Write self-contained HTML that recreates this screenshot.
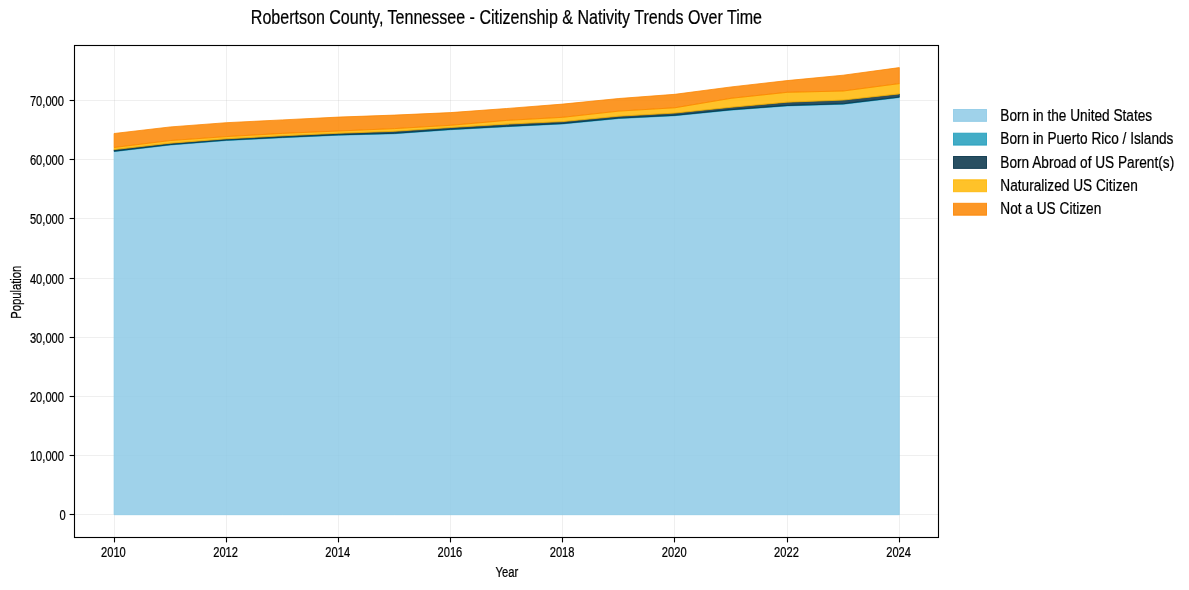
<!DOCTYPE html>
<html lang="en"><head><meta charset="utf-8">
<title>Robertson County, Tennessee - Citizenship &amp; Nativity Trends Over Time</title>
<style>html,body{margin:0;padding:0;background:#fff}svg{display:block}text{font-family:"Liberation Sans",sans-serif;fill:#000;stroke:#000;stroke-width:0.22px}</style>
</head><body>
<svg width="1189" height="590" viewBox="0 0 1189 590">
<rect x="0" y="0" width="1189" height="590" fill="#fff"/>
<g stroke="#b0b0b0" stroke-opacity="0.3" stroke-width="0.69" fill="none">
<line x1="114.5" y1="45.5" x2="114.5" y2="537.5"/>
<line x1="226.5" y1="45.5" x2="226.5" y2="537.5"/>
<line x1="338.5" y1="45.5" x2="338.5" y2="537.5"/>
<line x1="450.5" y1="45.5" x2="450.5" y2="537.5"/>
<line x1="562.5" y1="45.5" x2="562.5" y2="537.5"/>
<line x1="674.5" y1="45.5" x2="674.5" y2="537.5"/>
<line x1="787.5" y1="45.5" x2="787.5" y2="537.5"/>
<line x1="899.5" y1="45.5" x2="899.5" y2="537.5"/>
<line x1="74.5" y1="514.5" x2="938.5" y2="514.5"/>
<line x1="74.5" y1="455.5" x2="938.5" y2="455.5"/>
<line x1="74.5" y1="396.5" x2="938.5" y2="396.5"/>
<line x1="74.5" y1="337.5" x2="938.5" y2="337.5"/>
<line x1="74.5" y1="278.5" x2="938.5" y2="278.5"/>
<line x1="74.5" y1="218.5" x2="938.5" y2="218.5"/>
<line x1="74.5" y1="159.5" x2="938.5" y2="159.5"/>
<line x1="74.5" y1="100.5" x2="938.5" y2="100.5"/>
</g>
<g fill-opacity="0.85" stroke-opacity="0.85" stroke-width="0.90" stroke-linejoin="miter">
<polygon fill="#8ECAE6" stroke="#8ECAE6" points="114.10,151.60 170.19,145.00 226.27,140.50 282.36,137.70 338.44,135.20 394.53,133.70 450.62,129.70 506.70,126.70 562.79,123.90 618.87,118.50 674.96,115.70 731.05,110.10 787.13,105.90 843.22,104.20 899.30,97.50 899.30,514.70 843.22,514.70 787.13,514.70 731.05,514.70 674.96,514.70 618.87,514.70 562.79,514.70 506.70,514.70 450.62,514.70 394.53,514.70 338.44,514.70 282.36,514.70 226.27,514.70 170.19,514.70 114.10,514.70"/>
<polygon fill="#219EBC" stroke="#219EBC" points="114.10,151.20 170.19,144.60 226.27,140.10 282.36,137.30 338.44,134.80 394.53,133.30 450.62,129.30 506.70,126.30 562.79,123.50 618.87,118.10 674.96,115.30 731.05,109.70 787.13,105.50 843.22,103.80 899.30,97.10 899.30,97.50 843.22,104.20 787.13,105.90 731.05,110.10 674.96,115.70 618.87,118.50 562.79,123.90 506.70,126.70 450.62,129.70 394.53,133.70 338.44,135.20 282.36,137.70 226.27,140.50 170.19,145.00 114.10,151.60"/>
<polygon fill="#023047" stroke="#023047" points="114.10,149.60 170.19,143.20 226.27,138.80 282.36,135.80 338.44,133.25 394.53,131.30 450.62,127.50 506.70,124.15 562.79,121.60 618.87,116.20 674.96,113.10 731.05,107.30 787.13,102.20 843.22,100.10 899.30,93.90 899.30,97.10 843.22,103.80 787.13,105.50 731.05,109.70 674.96,115.30 618.87,118.10 562.79,123.50 506.70,126.30 450.62,129.30 394.53,133.30 338.44,134.80 282.36,137.30 226.27,140.10 170.19,144.60 114.10,151.20"/>
<polygon fill="#FFB703" stroke="#FFB703" points="114.10,147.50 170.19,140.55 226.27,136.60 282.36,133.40 338.44,131.00 394.53,128.60 450.62,125.30 506.70,120.40 562.79,117.30 618.87,111.10 674.96,107.75 731.05,98.30 787.13,92.30 843.22,91.00 899.30,83.60 899.30,93.90 843.22,100.10 787.13,102.20 731.05,107.30 674.96,113.10 618.87,116.20 562.79,121.60 506.70,124.15 450.62,127.50 394.53,131.30 338.44,133.25 282.36,135.80 226.27,138.80 170.19,143.20 114.10,149.60"/>
<polygon fill="#FB8500" stroke="#FB8500" points="114.10,133.50 170.19,126.95 226.27,122.70 282.36,119.90 338.44,117.10 394.53,115.10 450.62,112.60 506.70,108.50 562.79,104.10 618.87,98.50 674.96,94.30 731.05,86.95 787.13,80.60 843.22,75.20 899.30,67.60 899.30,83.60 843.22,91.00 787.13,92.30 731.05,98.30 674.96,107.75 618.87,111.10 562.79,117.30 506.70,120.40 450.62,125.30 394.53,128.60 338.44,131.00 282.36,133.40 226.27,136.60 170.19,140.55 114.10,147.50"/>
</g>
<g stroke="#000" stroke-width="1.11" fill="none">
<rect x="74.5" y="45.5" width="864.0" height="492.0"/>
<line x1="114.5" y1="537.5" x2="114.5" y2="542.4"/>
<line x1="226.5" y1="537.5" x2="226.5" y2="542.4"/>
<line x1="338.5" y1="537.5" x2="338.5" y2="542.4"/>
<line x1="450.5" y1="537.5" x2="450.5" y2="542.4"/>
<line x1="562.5" y1="537.5" x2="562.5" y2="542.4"/>
<line x1="674.5" y1="537.5" x2="674.5" y2="542.4"/>
<line x1="787.5" y1="537.5" x2="787.5" y2="542.4"/>
<line x1="899.5" y1="537.5" x2="899.5" y2="542.4"/>
<line x1="74.5" y1="514.5" x2="69.6" y2="514.5"/>
<line x1="74.5" y1="455.5" x2="69.6" y2="455.5"/>
<line x1="74.5" y1="396.5" x2="69.6" y2="396.5"/>
<line x1="74.5" y1="337.5" x2="69.6" y2="337.5"/>
<line x1="74.5" y1="278.5" x2="69.6" y2="278.5"/>
<line x1="74.5" y1="218.5" x2="69.6" y2="218.5"/>
<line x1="74.5" y1="159.5" x2="69.6" y2="159.5"/>
<line x1="74.5" y1="100.5" x2="69.6" y2="100.5"/>
</g>
<text transform="translate(113.40 556.70) scale(0.803 1.070)" font-size="13.89" text-anchor="middle">2010</text>
<text transform="translate(225.57 556.70) scale(0.803 1.070)" font-size="13.89" text-anchor="middle">2012</text>
<text transform="translate(337.74 556.70) scale(0.803 1.070)" font-size="13.89" text-anchor="middle">2014</text>
<text transform="translate(449.92 556.70) scale(0.803 1.070)" font-size="13.89" text-anchor="middle">2016</text>
<text transform="translate(562.09 556.70) scale(0.803 1.070)" font-size="13.89" text-anchor="middle">2018</text>
<text transform="translate(674.26 556.70) scale(0.803 1.070)" font-size="13.89" text-anchor="middle">2020</text>
<text transform="translate(786.43 556.70) scale(0.803 1.070)" font-size="13.89" text-anchor="middle">2022</text>
<text transform="translate(898.60 556.70) scale(0.803 1.070)" font-size="13.89" text-anchor="middle">2024</text>
<text transform="translate(65.80 519.70) scale(0.803 1.070)" font-size="13.89" text-anchor="end">0</text>
<text transform="translate(64.00 460.70) scale(0.803 1.070)" font-size="13.89" text-anchor="end">10,000</text>
<text transform="translate(64.00 401.70) scale(0.803 1.070)" font-size="13.89" text-anchor="end">20,000</text>
<text transform="translate(64.00 342.70) scale(0.803 1.070)" font-size="13.89" text-anchor="end">30,000</text>
<text transform="translate(64.00 283.70) scale(0.803 1.070)" font-size="13.89" text-anchor="end">40,000</text>
<text transform="translate(64.00 223.70) scale(0.803 1.070)" font-size="13.89" text-anchor="end">50,000</text>
<text transform="translate(64.00 164.70) scale(0.803 1.070)" font-size="13.89" text-anchor="end">60,000</text>
<text transform="translate(64.00 105.70) scale(0.803 1.070)" font-size="13.89" text-anchor="end">70,000</text>
<text transform="translate(506.80 576.50) scale(0.810 1.050)" font-size="13.89" text-anchor="middle">Year</text>
<text transform="translate(21.10 292.20) rotate(-90) scale(0.810 1.050)" font-size="13.89" text-anchor="middle">Population</text>
<text transform="translate(506.40 24.00) scale(0.826 1.000)" font-size="19.44" text-anchor="middle">Robertson County, Tennessee - Citizenship &amp; Nativity Trends Over Time</text>
<rect x="953.5" y="109.50" width="33" height="11.9" fill="#8ECAE6" stroke="#8ECAE6" fill-opacity="0.85" stroke-opacity="0.85" stroke-width="1"/>
<text transform="translate(1000.30 120.85) scale(0.820 1.000)" font-size="16.67" text-anchor="start">Born in the United States</text>
<rect x="953.5" y="133.20" width="33" height="11.9" fill="#219EBC" stroke="#219EBC" fill-opacity="0.85" stroke-opacity="0.85" stroke-width="1"/>
<text transform="translate(1000.30 144.20) scale(0.820 1.000)" font-size="16.67" text-anchor="start">Born in Puerto Rico / Islands</text>
<rect x="953.5" y="156.50" width="33" height="11.9" fill="#023047" stroke="#023047" fill-opacity="0.85" stroke-opacity="0.85" stroke-width="1"/>
<text transform="translate(1000.30 167.55) scale(0.820 1.000)" font-size="16.67" text-anchor="start">Born Abroad of US Parent(s)</text>
<rect x="953.5" y="179.80" width="33" height="11.9" fill="#FFB703" stroke="#FFB703" fill-opacity="0.85" stroke-opacity="0.85" stroke-width="1"/>
<text transform="translate(1000.30 190.90) scale(0.820 1.000)" font-size="16.67" text-anchor="start">Naturalized US Citizen</text>
<rect x="953.5" y="203.30" width="33" height="11.9" fill="#FB8500" stroke="#FB8500" fill-opacity="0.85" stroke-opacity="0.85" stroke-width="1"/>
<text transform="translate(1000.30 214.25) scale(0.820 1.000)" font-size="16.67" text-anchor="start">Not a US Citizen</text>
</svg>
</body></html>
